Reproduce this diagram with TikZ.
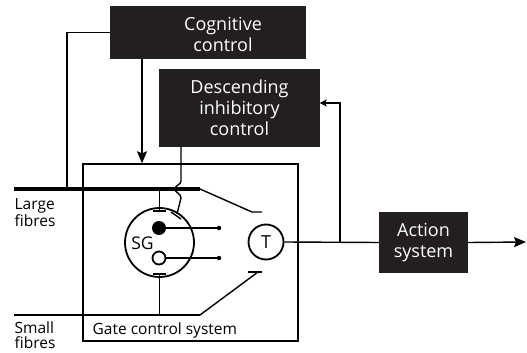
\documentclass[tikz,border=0pt]{standalone}
\usepackage{fontspec}
\setmainfont{Open Sans}
\usetikzlibrary{arrows.meta,positioning,calc}
\definecolor{boxblack}{HTML}{231F20}
\begin{document}
\begin{tikzpicture}[x=1pt, y=-1pt, line width=1.4pt,
  blackbox/.style={fill=boxblack, draw=boxblack, inner sep=0pt},
  boxtext/.style={text=white, font=\fontsize{18}{21}\selectfont, align=center},
  lbl/.style={font=\fontsize{15.5}{15}\selectfont, align=left, anchor=north west, inner sep=0pt},
  ring/.style={circle, draw, line width=1.8pt, inner sep=0pt},
  arr/.style={-{Stealth[length=12pt,width=10pt,inset=2pt]}},
  smallarr/.style={-{Stealth[length=7pt,width=7pt,inset=1.5pt]}}]
  \useasboundingbox (0,0) rectangle (527,353);
  % control boxes
  \node[blackbox, minimum width=194pt, minimum height=51pt,
        label={[boxtext, xshift=15pt, yshift=-2pt]center:Cognitive\\control}] (cog) at (208,32.5) {};
  \node[blackbox, boxtext, minimum width=159pt, minimum height=76pt] (desc) at (239.5,108) {Descending\\inhibitory\\control};
  \node[blackbox, boxtext, minimum width=87pt, minimum height=59pt] (act) at (423.5,242.5) {Action\\system};
  % gate control system
  \node[draw, minimum width=215pt, minimum height=177pt, inner sep=0pt] (gate) at (190.5,252.5) {};
  \node[lbl, anchor=base west] (gatelbl) at (92,334) {Gate control system};
  % fibres
  \coordinate (lfs) at (14,189);
  \coordinate (lfe) at (200,189);
  \coordinate (sfs) at (14,315);
  \coordinate (sfe) at (200,315);
  \draw[line width=4.3pt] (lfs) -- (lfe);
  \draw (sfs) -- (sfe);
  \node[lbl] (large) at (14,198) {Large\\fibres};
  \node[lbl] (small) at (14,321) {Small\\fibres};
  % SG and T cells
  \node[ring, minimum size=69pt] (sg) at (159.5,242.5) {};
  \node[font=\fontsize{17.5}{17}\selectfont, inner sep=0pt] (sglbl) at (142.5,243.5) {SG};
  \node[circle, fill, minimum size=14pt, inner sep=0pt] (exc) at (159,228) {};
  \node[ring, fill=white, minimum size=13pt] (inhd) at (159,258) {};
  \node[circle, fill, minimum size=4.5pt, inner sep=0pt] (exce) at (219,228) {};
  \node[circle, fill, minimum size=4.5pt, inner sep=0pt] (inhe) at (219,258) {};
  \draw (exc.center) -- (exce.center);
  \draw (inhd.east) -- (inhe.center);
  \node[ring, minimum size=35pt, font=\fontsize{18}{18}\selectfont] (t) at (266,242) {T};
  % fibres into SG
  \coordinate (sgtop) at (159.5,211);
  \coordinate (sgbot) at (159.5,274);
  \draw (sgtop |- lfs) -- (sgtop);
  \draw ($(sgtop)+(-6.5,0)$) -- ($(sgtop)+(6.5,0)$);
  \draw (sgbot) -- (sgbot |- sfs);
  \draw ($(sgbot)+(-6.5,0)$) -- ($(sgbot)+(6.5,0)$);
  % fibres onto T
  \coordinate (lgt) at (252,212);
  \coordinate (sgt) at (258,272);
  \draw (lfe) -- (lgt) -- ++(10,0);
  \draw (sfe) -- (sgt);
  \draw ($(sgt)+(-10,0)$) -- ($(sgt)+(4,0)$);
  % descending inhibition, hopping over the large fibres
  \coordinate (dsc) at (181,146);
  \coordinate (dend) at (177,214);
  \draw (dsc) -- (181,181) .. controls (181,185) and (175,185) .. (175,189)
        .. controls (175,193) and (181,193) .. (181,198) -- (dend);
  \draw ($(dend)+(-6,-2)$) -- ($(dend)+(4,5)$);
  % cognitive control
  \coordinate (lfj) at (67,189);
  \coordinate (cogout) at (142,58);
  \draw (cog.west) -| (lfj);
  \draw[arr] (cogout) -- (cogout |- gate.north);
  % output and feedback
  \coordinate (br) at (340,242);
  \coordinate (fb) at (340,103);
  \coordinate (out) at (526,242);
  \draw (t.east) -- (act.west);
  \draw[arr] (act.east) -- (out);
  \draw[smallarr] (br) -- (fb) -- (fb -| desc.east);
\end{tikzpicture}
\end{document}
